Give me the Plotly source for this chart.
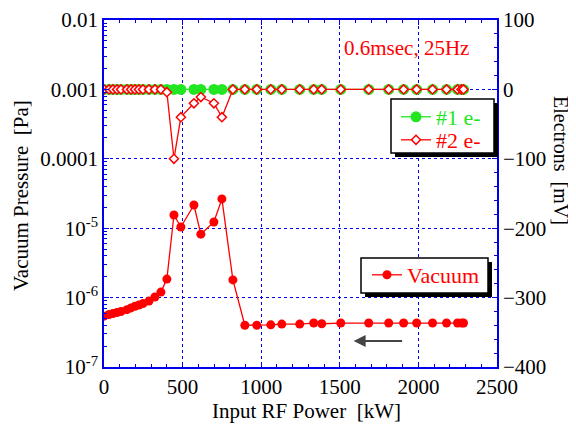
import plotly.graph_objects as go

power_kw = [0, 32, 57, 83, 108, 146, 172, 197, 222, 248, 286, 324, 362, 400,
            445, 489, 572, 616, 699, 750, 820, 896, 972, 1061, 1131, 1245, 1334,
            1385, 1506, 1684, 1811, 1906, 1989, 2090, 2179, 2249, 2274, 2287]
vacuum_pa = [5.4e-7, 5.7e-7, 5.9e-7, 6.1e-7, 6.3e-7, 6.7e-7, 7.1e-7, 7.5e-7, 7.8e-7,
             8.2e-7, 8.9e-7, 1.02e-6, 1.2e-6, 1.85e-6,
             1.55e-5, 1.04e-5, 2.16e-5, 8.2e-6, 1.23e-5, 2.64e-5, 1.8e-6, 4.0e-7,
             4.0e-7, 4.05e-7, 4.15e-7, 4.15e-7, 4.3e-7, 4.2e-7, 4.3e-7, 4.3e-7,
             4.3e-7, 4.3e-7, 4.3e-7, 4.3e-7, 4.3e-7, 4.3e-7, 4.3e-7, 4.3e-7]
e1_mv = [0] * 38
e2_mv = [0, 0, 0, 0, 0, 0, 0, 0, 0, 0, 0, 0, 0, -4,
         -100, -40, -20, -11, -20, -40, 0, 0,
         0, 0, 0, 0, 0, 0, 0, 0, 0, 0, 0, 0, 0, 0, 0, 0]

left_tickvals = [1e-7, 1e-6, 1e-5, 1e-4, 1e-3, 1e-2]
left_ticktext = ["10<sup>-7</sup>", "10<sup>-6</sup>", "10<sup>-5</sup>", "0.0001", "0.001", "0.01"]

RED = "#ff0000"
GREEN = "#22e622"
BLUE = "#0000ee"
FONT = "Liberation Serif, Times New Roman, serif"

# page body has an 8px margin: figure drawn 8px smaller and shifted
OFF = 8
FIG_W, FIG_H = 576 - OFF, 427 - OFF
# plot area in reference pixels
L, R, T, B = 104, 497, 20, 367
W, H = R - L, B - T


def px(xp):
    return (xp - L) / W


def py(yp):
    return (B - yp) / H


fig = go.Figure()
fig.add_trace(go.Scatter(
    x=power_kw, y=vacuum_pa, name="Vacuum", mode="lines+markers",
    line=dict(color=RED, width=1.3), marker=dict(color=RED, size=9),
    legend="legend2", yaxis="y"))
fig.add_trace(go.Scatter(
    x=power_kw, y=e1_mv, name="<span style='color:%s'>#1 e-</span>" % GREEN,
    mode="lines+markers", line=dict(color=GREEN, width=1.3),
    marker=dict(color=GREEN, size=11), legend="legend", yaxis="y2"))
fig.add_trace(go.Scatter(
    x=power_kw, y=e2_mv, name="<span style='color:%s'>#2 e-</span>" % RED,
    mode="lines+markers", line=dict(color=RED, width=1.3),
    marker=dict(symbol="diamond", color="white", size=7, line=dict(color=RED, width=1.5)),
    legend="legend3", yaxis="y2"))

axis_common = dict(showline=True, linecolor=BLUE, linewidth=1.5, ticks="inside",
                   tickcolor=BLUE, ticklen=5, zeroline=False, automargin=False,
                   tickfont=dict(family=FONT, size=21, color="black"))

shapes = []
for (x0, y0, x1, y1) in [(391, 99, 494, 153), (361, 258, 488, 293)]:
    shapes.append(dict(type="rect", xref="paper", yref="paper", layer="above",
                       x0=px(x0 + 4), x1=px(x1 + 4), y0=py(y0 + 4), y1=py(y1 + 4),
                       fillcolor="black", line=dict(width=0)))
    shapes.append(dict(type="rect", xref="paper", yref="paper", layer="above",
                       x0=px(x0), x1=px(x1), y0=py(y0), y1=py(y1),
                       fillcolor="white", line=dict(color="black", width=1.5)))

leg_common = dict(xanchor="left", yanchor="middle", bgcolor="rgba(0,0,0,0)", borderwidth=0)

fig.update_layout(
    width=FIG_W, height=FIG_H,
    margin=dict(l=L - OFF, r=FIG_W - (R - OFF), t=T - OFF, b=FIG_H - (B - OFF)),
    paper_bgcolor="white", plot_bgcolor="white",
    font=dict(family=FONT, size=21, color="black"),
    xaxis=dict(range=[0, 2500], tickvals=[0, 500, 1000, 1500, 2000, 2500],
               showgrid=True, gridcolor=BLUE, griddash="dot", gridwidth=1,
               mirror="ticks",
               minor=dict(dtick=100, ticks="inside", ticklen=3, tickcolor=BLUE),
               **axis_common),
    yaxis=dict(type="log", range=[-7, -2], tickvals=left_tickvals, ticktext=left_ticktext,
               showgrid=True, gridcolor=BLUE, griddash="dot", gridwidth=1,
               minor=dict(tickvals=[k * 10 ** e for e in range(-7, -2) for k in range(2, 10)],
                          ticks="inside", ticklen=3, tickcolor=BLUE, showgrid=False),
               **axis_common),
    yaxis2=dict(overlaying="y", side="right", range=[-400, 100], dtick=100,
                showgrid=False,
                minor=dict(dtick=20, ticks="inside", ticklen=3, tickcolor=BLUE),
                **axis_common),
    legend=dict(x=px(396), y=py(117), font=dict(family=FONT, size=22), **leg_common),
    legend3=dict(x=px(396), y=py(140), font=dict(family=FONT, size=22), **leg_common),
    legend2=dict(x=px(367), y=py(275), font=dict(family=FONT, size=22, color=RED),
                 **leg_common),
    showlegend=True,
    shapes=shapes,
    annotations=[
        dict(text="Input RF Power  [kW]", xref="paper", yref="paper",
             x=px(306), y=py(411), xanchor="center", yanchor="middle",
             showarrow=False, font=dict(family=FONT, size=21)),
        dict(text="Vacuum Pressure  [Pa]", textangle=-90, xref="paper", yref="paper",
             x=px(21), y=py(196), xanchor="center", yanchor="middle",
             showarrow=False, font=dict(family=FONT, size=21)),
        dict(text="Electrons  [mV]", textangle=90, xref="paper", yref="paper",
             x=px(561), y=py(160), xanchor="center", yanchor="middle",
             showarrow=False, font=dict(family=FONT, size=20)),
        dict(text="0.6msec, 25Hz", xref="paper", yref="paper",
             x=px(342), y=py(48), xanchor="left", yanchor="middle", showarrow=False,
             font=dict(family=FONT, size=21, color=RED)),
        dict(x=1588, y=-6.625, ax=1906, ay=-6.625, xref="x", yref="y",
             axref="x", ayref="y", text="", showarrow=True, arrowhead=2,
             arrowsize=1.2, arrowwidth=2, arrowcolor="#444444"),
    ],
)

fig.write_html("out.html")
